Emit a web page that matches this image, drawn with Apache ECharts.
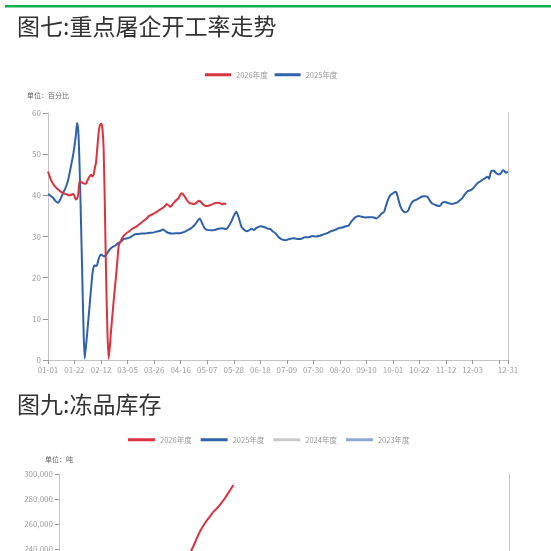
<!DOCTYPE html>
<html><head><meta charset="utf-8">
<script src="https://cdn.jsdelivr.net/npm/echarts@6/dist/echarts.min.js"></script>
<style>html,body{margin:0;padding:0;background:#fff;overflow:hidden}#c{width:551px;height:700px}</style>
</head><body><div id="c"></div>
<script>
// ---------- Chart 1: 重点屠企开工率走势 (day-of-year index, percent) ----------
const title1 = '图七:重点屠企开工率走势';
const unit1 = '单位：百分比';
const legend1 = ['2026年度', '2025年度'];
// tick labels at day 0,21,42,...,357 and the final day 364
const xTickLabels = ['01-01','01-22','02-12','03-05','03-26','04-16','05-07','05-28','06-18','07-09','07-30','08-20','09-10','10-01','10-22','11-12','12-03',''];
const xLastLabel = '12-31';

const rate2026 = [[0,45.8],[2,44],[4,42.8],[6,42],[8,41.4],[10,40.9],[13,40.4],[15,40.2],[17,40],[19,40.2],[20,40.4],[21,39.8],[22,39],[23,39.2],[24,40.5],[25,43.5],[26,43.3],[28,42.9],[30,42.8],[31,43.5],[33,44.6],[34,45],[35,44.6],[36,45],[37,46.5],[38,48],[39,51.5],[40,55],[41,57],[42,57.4],[43,56.4],[44,51.5],[45,37],[46,20],[47,7],[48,0.3],[49,3.5],[50,7.5],[52,14.5],[54,21],[55,24.5],[56,27.8],[58,29.2],[60,30.2],[62,30.8],[64,31.2],[66,31.7],[68,32.1],[70,32.4],[72,32.9],[74,33.4],[76,33.9],[78,34.4],[80,35],[82,35.3],[84,35.6],[86,36],[88,36.4],[90,36.8],[92,37.2],[94,37.9],[96,37.4],[97,37.2],[99,38],[101,38.7],[103,39.2],[105,40.3],[106,40.5],[108,39.8],[110,38.8],[112,38.1],[114,38],[116,37.9],[118,38.4],[120,38.7],[122,38],[124,37.5],[126,37.4],[128,37.6],[130,37.8],[132,38.1],[134,38.2],[136,38.1],[138,37.8],[139,38],[141,37.9]];

const rate2025 = [[0,40.3],[2,39.9],[4,39.4],[6,38.6],[8,38.2],[10,39.2],[12,40.6],[14,41.9],[16,43.8],[18,46.8],[20,50],[22,54.5],[23,57.6],[24,55.5],[25,47],[26,35],[27,22],[28,9],[29,0.3],[31,6.5],[33,13.5],[35,20.5],[36,22.5],[37,23],[38,22.8],[39,23.2],[40,24.5],[42,25.6],[44,25.2],[46,25.5],[48,26.5],[50,27.2],[52,27.6],[54,28],[56,28.5],[58,28.8],[60,29.4],[62,29.5],[65,29.8],[68,30.4],[70,30.6],[74,30.7],[78,30.8],[81,30.9],[84,31],[86,31.2],[89,31.4],[91,31.7],[93,31.3],[95,30.9],[98,30.7],[101,30.8],[104,30.8],[106,30.9],[109,31.3],[111,31.6],[114,32.2],[116,32.8],[118,33.6],[120,34.4],[122,33.2],[124,32],[126,31.6],[129,31.5],[132,31.6],[135,31.9],[138,32],[141,31.8],[143,32.5],[145,33.6],[147,35],[149,36],[151,34.5],[153,32.4],[155,31.7],[157,31.3],[159,31.5],[161,31.9],[163,31.6],[165,32.1],[168,32.5],[171,32.3],[174,31.9],[176,31.8],[178,31.2],[180,30.8],[182,30],[184,29.5],[186,29.2],[188,29.1],[191,29.4],[194,29.6],[197,29.4],[200,29.4],[203,29.8],[206,29.8],[209,30.1],[212,30],[215,30.2],[218,30.5],[221,30.8],[224,31.3],[227,31.6],[230,32],[233,32.2],[236,32.5],[238,32.7],[240,33.6],[242,34.3],[244,34.8],[246,35],[248,34.8],[251,34.6],[254,34.7],[257,34.7],[260,34.4],[262,34.9],[264,35.6],[266,36],[267,37],[269,38.9],[271,40.1],[273,40.5],[275,40.9],[276,40.5],[277,39.3],[279,37.2],[281,36.2],[283,35.9],[285,36.3],[287,37.8],[289,38.6],[292,39],[294,39.4],[296,39.7],[298,39.8],[300,39.7],[302,38.8],[304,38],[307,37.6],[310,37.4],[312,38.2],[314,38.4],[316,38.2],[318,38],[320,37.9],[322,38.1],[324,38.3],[326,38.8],[328,39.4],[330,40.3],[332,41],[334,41.2],[336,41.6],[338,42.3],[340,43],[342,43.4],[344,43.8],[346,44.2],[348,44.5],[349,44],[350,45.2],[351,46],[353,46],[354,45.6],[356,45.1],[358,45.2],[360,46.1],[361,46],[362,45.5],[364,45.7]];

// ---------- Chart 2: 冻品库存 (tons) ----------
const title2 = '图九:冻品库存';
const unit2 = '单位：吨';
const legend2 = ['2026年度', '2025年度', '2024年度', '2023年度'];
const stock2026 = [[105,235500],[107,239000],[110,245500],[114,254200],[118,260800],[122,266100],[125,270000],[129,274000],[132,277800],[134,280500],[137,285000],[141,291300]];
const stock2025 = [];
const stock2024 = [];
const stock2023 = [];

const RED = '#d9333f', BLUE = '#2f62aa', GRAY = '#c9c9c9', LBLUE = '#8fa9d4';
const AX = '#c4c4c4', LBL = '#a0a0a0';
const FONT = '"Noto Sans CJK SC", "Noto Sans", sans-serif';

function fmtThousands(v){ return String(v).replace(/\B(?=(\d{3})+(?!\d))/g, ','); }

const chart = echarts.init(document.getElementById('c'), null, {renderer:'canvas'});
chart.setOption({
  animation:false,
  backgroundColor:'#fff',
  textStyle:{fontFamily:FONT},
  graphic:[
    {type:'rect', shape:{x:5, y:5, width:546, height:2.6}, style:{fill:'#10b04e'}, silent:true},
    {type:'text', style:{x:17, y:26, text:title1, fontSize:23, fontFamily:FONT, fill:'#333', verticalAlign:'middle'}},
    {type:'text', style:{x:27, y:95.5, text:unit1, fontSize:7, fontFamily:FONT, fill:'#666', verticalAlign:'middle'}},
    {type:'text', style:{x:17, y:404, text:title2, fontSize:23, fontFamily:FONT, fill:'#333', verticalAlign:'middle'}},
    {type:'text', style:{x:45, y:459, text:unit2, fontSize:7, fontFamily:FONT, fill:'#666', verticalAlign:'middle'}}
  ],
  legend:[
    {data:legend1, left:200, top:66, itemWidth:26, itemHeight:3, itemGap:7, icon:'rect',
     textStyle:{fontSize:7.5, color:'#999', fontFamily:FONT}},
    {data:legend2, left:123, top:431, itemWidth:27, itemHeight:3, itemGap:9, icon:'rect',
     textStyle:{fontSize:7.5, color:'#999', fontFamily:FONT}}
  ],
  grid:[
    {left:48, top:113, width:460, height:247, outerBoundsMode:'none'},
    {left:59, top:474, width:450, height:176, outerBoundsMode:'none'}
  ],
  xAxis:[
    {type:'value', gridIndex:0, min:0, max:364, interval:21,
     axisLine:{show:true, lineStyle:{color:AX}},
     axisTick:{show:true, length:4, lineStyle:{color:'#999'}},
     splitLine:{show:false},
     axisLabel:{fontSize:8, color:LBL, margin:6, showMaxLabel:true, showMinLabel:true,
       formatter:function(v){ if (v === 364) return xLastLabel; const i = Math.round(v/21); return (v % 21 === 0 && xTickLabels[i] !== undefined) ? xTickLabels[i] : ''; }}},
    {type:'value', gridIndex:1, min:0, max:364, interval:21,
     axisLine:{show:true, lineStyle:{color:AX}},
     axisTick:{show:true, length:4, lineStyle:{color:'#999'}},
     splitLine:{show:false}, axisLabel:{show:false}}
  ],
  yAxis:[
    {type:'value', gridIndex:0, min:0, max:60, interval:10,
     axisLine:{show:true, lineStyle:{color:AX}},
     axisTick:{show:true, length:5, lineStyle:{color:'#999'}},
     splitLine:{show:false},
     axisLabel:{fontSize:8, color:LBL, margin:7}},
    {type:'value', gridIndex:0, position:'right', min:0, max:60, interval:10,
     axisLine:{show:true, lineStyle:{color:AX}}, axisTick:{show:false}, axisLabel:{show:false}, splitLine:{show:false}},
    {type:'value', gridIndex:1, min:160000, max:300000, interval:20000,
     axisLine:{show:true, lineStyle:{color:AX}},
     axisTick:{show:true, length:4, lineStyle:{color:'#999'}},
     splitLine:{show:false},
     axisLabel:{fontSize:8, color:LBL, margin:6, formatter:fmtThousands}},
    {type:'value', gridIndex:1, position:'right', min:160000, max:300000, interval:20000,
     axisLine:{show:true, lineStyle:{color:AX}}, axisTick:{show:false}, axisLabel:{show:false}, splitLine:{show:false}}
  ],
  series:[
    {name:legend1[0], type:'line', xAxisIndex:0, yAxisIndex:0, data:rate2026, showSymbol:false, smooth:0.2,
     lineStyle:{width:2, color:RED}, itemStyle:{color:RED}, z:3},
    {name:legend1[1], type:'line', xAxisIndex:0, yAxisIndex:0, data:rate2025, showSymbol:false, smooth:0.2,
     lineStyle:{width:2, color:BLUE}, itemStyle:{color:BLUE}, z:2},
    {name:legend2[0], type:'line', xAxisIndex:1, yAxisIndex:2, data:stock2026, showSymbol:false, smooth:0.4,
     lineStyle:{width:2, color:RED}, itemStyle:{color:RED}, z:3},
    {name:legend2[1], type:'line', xAxisIndex:1, yAxisIndex:2, data:stock2025, showSymbol:false,
     lineStyle:{width:2, color:BLUE}, itemStyle:{color:BLUE}},
    {name:legend2[2], type:'line', xAxisIndex:1, yAxisIndex:2, data:stock2024, showSymbol:false,
     lineStyle:{width:2, color:GRAY}, itemStyle:{color:GRAY}},
    {name:legend2[3], type:'line', xAxisIndex:1, yAxisIndex:2, data:stock2023, showSymbol:false,
     lineStyle:{width:2, color:LBLUE}, itemStyle:{color:LBLUE}}
  ]
});
</script>
</body></html>
